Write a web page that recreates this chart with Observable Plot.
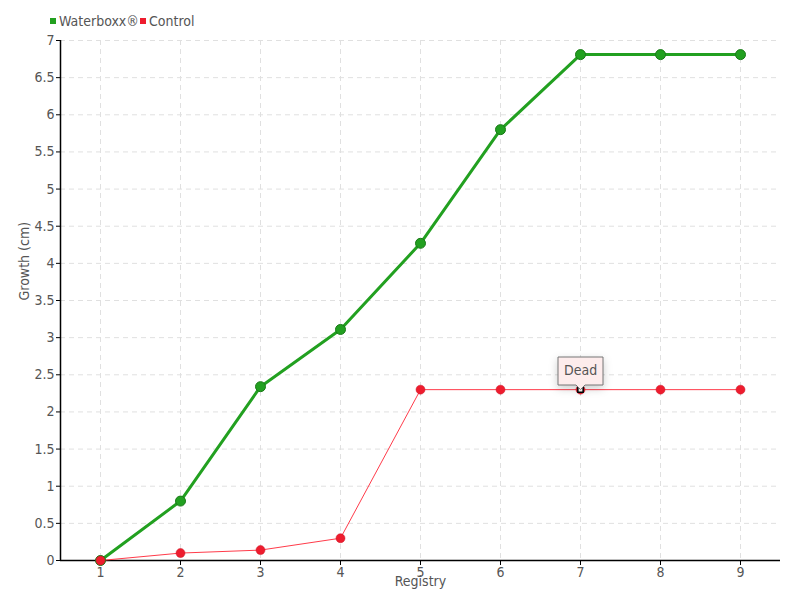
<!DOCTYPE html>
<html>
<head>
<meta charset="utf-8">
<script src="https://cdn.jsdelivr.net/npm/d3@7"></script>
<script src="https://cdn.jsdelivr.net/npm/@observablehq/plot@0.6"></script>
<style>
  body { margin: 0; background: #fff; font-family: "DejaVu Sans Condensed", "Liberation Sans Narrow", sans-serif; }
  #legend { height: 32px; position: relative; font-size: 14px; color: #555; }
  .item { position: absolute; top: 13px; display: flex; align-items: center; }
  .sw { width: 6px; height: 6px; margin-right: 3px; }
</style>
</head>
<body>
<div id="legend">
  <div class="item" style="left:50px"><span class="sw" style="background:#22a020"></span>Waterboxx®</div>
  <div class="item" style="left:140px"><span class="sw" style="background:#ee1c2e"></span>Control</div>
</div>
<div id="chart"></div>
<script>
const registry = [1, 2, 3, 4, 5, 6, 7, 8, 9];
const waterboxx = [0, 0.8, 2.34, 3.11, 4.27, 5.8, 6.81, 6.81, 6.81];
const control = [0, 0.1, 0.14, 0.3, 2.3, 2.3, 2.3, 2.3, 2.3];
const yTicks = [0, 0.5, 1, 1.5, 2, 2.5, 3, 3.5, 4, 4.5, 5, 5.5, 6, 6.5, 7];
const annotation = [{x: 7, y: 2.3, label: "Dead"}];

const wb = registry.map((x, i) => ({x, y: waterboxx[i]}));
const ct = registry.map((x, i) => ({x, y: control[i]}));
const font = '"DejaVu Sans Condensed", "Liberation Sans Narrow", sans-serif';

const chart = Plot.plot({
  width: 800,
  height: 568,
  marginTop: 8,
  marginBottom: 40,
  marginLeft: 60,
  marginRight: 20,
  style: {fontFamily: font, fontSize: "14px", color: "#555"},
  x: {domain: [0.5, 9.5], label: null},
  y: {domain: [0, 7], label: null},
  marks: [
    Plot.gridX(registry, {stroke: "#e0e0e0", strokeOpacity: 1, strokeDasharray: "5,4"}),
    Plot.gridY(yTicks.slice(1), {stroke: "#e0e0e0", strokeOpacity: 1, strokeDasharray: "5,4"}),
    Plot.axisY({ticks: yTicks, tickFormat: d => String(d), tickSize: 4, tickPadding: 2, stroke: "#000", fill: "#555", fontSize: 14, label: null}),
    Plot.axisX({ticks: registry, tickFormat: d => String(d), tickSize: 5, tickPadding: 2, stroke: "#000", fill: "#555", fontSize: 14, label: null}),
    Plot.ruleX([0.5], {stroke: "#000", strokeWidth: 1.5}),
    Plot.ruleY([0], {stroke: "#000", strokeWidth: 1.5}),
    Plot.text(["Registry"], {frameAnchor: "bottom", dy: 25, fill: "#555", fontSize: 14}),
    Plot.text(["Growth (cm)"], {frameAnchor: "left", dx: -36, rotate: -90, fill: "#555", fontSize: 14}),
    Plot.line(wb, {x: "x", y: "y", stroke: "#22a020", strokeWidth: 3}),
    Plot.line(ct, {x: "x", y: "y", stroke: "#ff3b4a", strokeWidth: 1}),
    Plot.dot(wb, {x: "x", y: "y", r: 5, fill: "#22a020", stroke: "#1a7a18", strokeWidth: 1}),
    Plot.dot(ct, {x: "x", y: "y", r: 4.5, fill: "#ee1c2e", stroke: "#c81424", strokeWidth: 0.5}),
    Plot.dot(annotation, {x: "x", y: "y", r: 3, symbol: "square", fill: "#fff", stroke: "#000", strokeWidth: 1.5}),
    Plot.tip(annotation, {x: "x", y: "y", title: "label", anchor: "bottom", pointerSize: 9, fill: "#fdecec", stroke: "#777", fontSize: 14, textPadding: 6})
  ]
});
document.getElementById("chart").appendChild(chart);
</script>
</body>
</html>
